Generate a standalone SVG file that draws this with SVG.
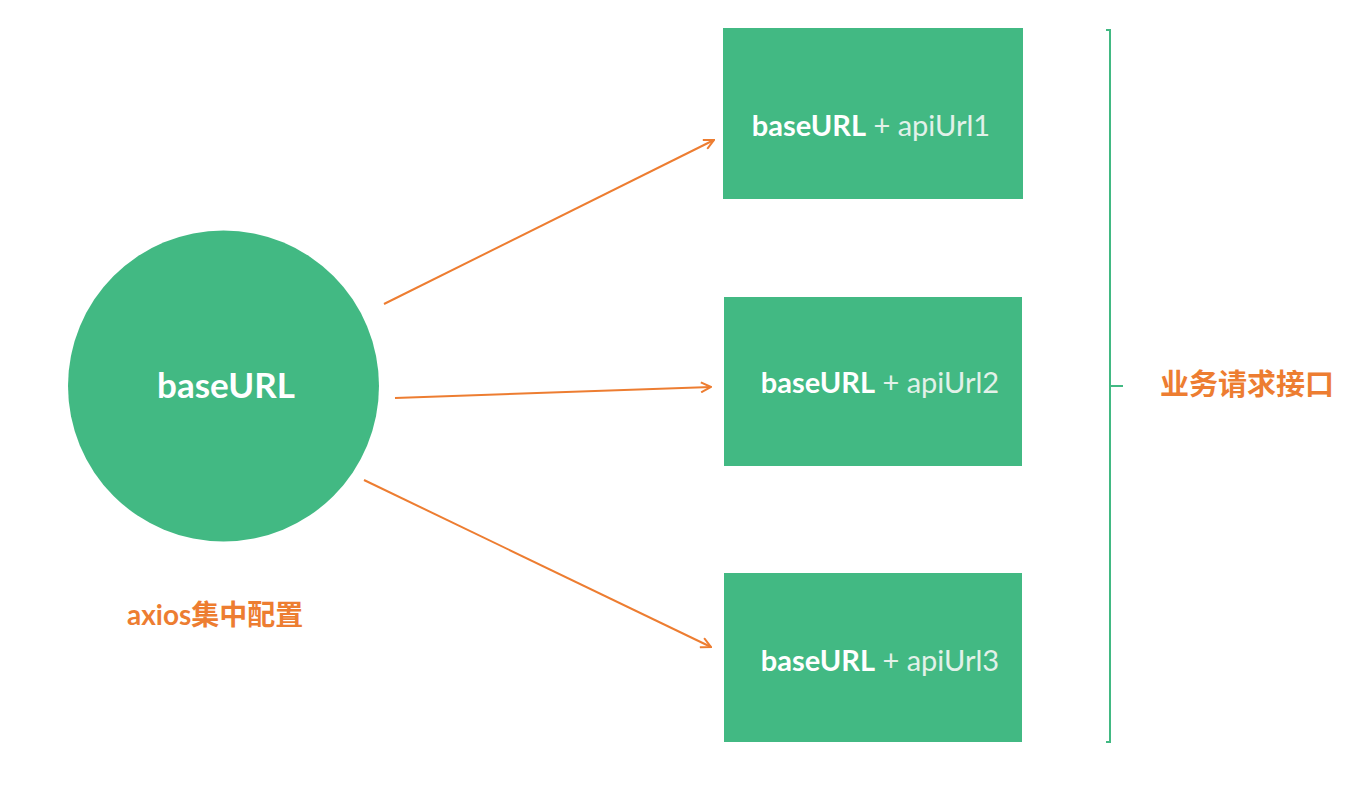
<svg xmlns="http://www.w3.org/2000/svg" width="1368" height="792" viewBox="0 0 1368 792">
<style>
.node{fill:#42B983}
.conn{stroke:#ED7D31;stroke-width:2;fill:none}
.bt{font-family:Lato,"Open Sans","Liberation Sans",sans-serif;font-size:29px;fill:#ffffff}
.b{font-weight:bold}
.l{fill:#E2F1E9}
.lab{font-family:Lato,"Noto Sans CJK SC",sans-serif;font-weight:bold;fill:#ED7D31}
.br{stroke:#42B983;stroke-width:2;fill:none}
</style>
<defs>
<marker id="ah" viewBox="0 0 12 12" refX="11" refY="6" markerWidth="12" markerHeight="12" markerUnits="userSpaceOnUse" orient="auto">
<path d="M1,1 L11,6 L1,11" fill="none" stroke="#ED7D31" stroke-width="2"/>
</marker>
</defs>
<g id="center">
<circle class="node" cx="223.5" cy="386" r="155.5"/>
<text x="226" y="398" text-anchor="middle" class="bt b" style="font-size:35px">baseURL</text>
</g>
<g id="api1">
<rect class="node" x="723" y="28" width="300" height="171"/>
<text x="871" y="136" text-anchor="middle" class="bt"><tspan class="b">baseURL</tspan><tspan class="l"> + apiUrl1</tspan></text>
</g>
<g id="api2">
<rect class="node" x="724" y="297" width="298" height="169"/>
<text x="880" y="393" text-anchor="middle" class="bt"><tspan class="b">baseURL</tspan><tspan class="l"> + apiUrl2</tspan></text>
</g>
<g id="api3">
<rect class="node" x="724" y="573" width="298" height="169"/>
<text x="880" y="671" text-anchor="middle" class="bt"><tspan class="b">baseURL</tspan><tspan class="l"> + apiUrl3</tspan></text>
</g>
<g id="connectors">
<line class="conn" x1="384" y1="304" x2="714" y2="140" marker-end="url(#ah)"/>
<line class="conn" x1="395" y1="398" x2="711" y2="387" marker-end="url(#ah)"/>
<line class="conn" x1="364" y1="480" x2="711" y2="647" marker-end="url(#ah)"/>
</g>
<g id="bracket">
<path class="br" d="M1106,30 H1110 V742 H1106 M1110,386 H1123"/>
</g>
<g id="labels">
<text x="1160" y="395" class="lab" style="font-size:29px">业务请求接口</text>
<text x="127" y="625" class="lab" style="font-size:28px">axios集中配置</text>
</g>
</svg>
